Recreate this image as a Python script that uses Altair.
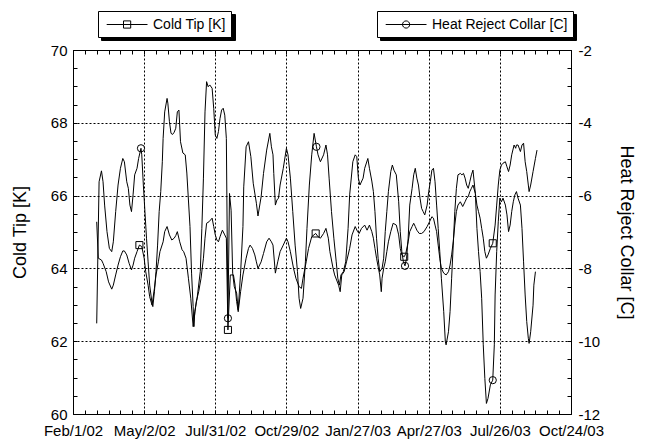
import altair as alt
import pandas as pd

# ---- data (days since Feb 1 2002) ----
cold_day = [30, 32, 36, 38, 42, 45, 49, 51, 54, 57, 60, 63, 65, 68, 71, 74, 76, 78, 81, 84,
            87, 90, 92, 95, 97, 100, 103, 105, 108, 110, 114, 116, 119, 122, 125, 128, 130, 132, 135, 138,
            140, 143, 146, 149, 152, 156, 159, 162, 165, 167, 169, 172, 176, 178, 180, 182, 184, 186, 189, 192,
            194, 196, 199, 203, 205, 207, 209, 212, 215, 219, 222, 224, 227, 230, 232, 234, 238, 241, 245, 248,
            251, 253, 256, 259, 262, 266, 270, 272, 275, 279, 282, 286, 289, 291, 295, 298, 302, 307, 310, 313,
            317, 320, 323, 325, 329, 331, 336, 338, 340, 343, 346, 350, 353, 357, 360, 362, 365, 369, 372, 375,
            378, 380, 382, 384, 386, 388, 390, 391, 393, 395, 397, 399, 402, 405, 409, 412, 414, 416, 419, 421,
            424, 426, 429, 431, 433, 435, 438, 441, 444, 448, 451, 454, 456, 458, 460, 462, 464, 466, 469, 472,
            475, 477, 479, 481, 483, 485, 487, 490, 493, 496, 498, 500, 502, 504, 506, 509, 511, 513, 515, 517,
            519, 521, 523, 525, 528, 531, 534, 536, 538, 540, 542, 544, 547, 549, 551, 553, 555, 558, 560, 561,
            563, 566, 568, 570, 572, 574, 576, 577, 579, 582, 585, 587]
cold_k = [65.28, 64.28, 64.23, 64.14, 63.91, 63.63, 63.43, 63.54, 63.82, 64.09, 64.32, 64.48, 64.48, 64.37, 64.14, 63.96, 64.09, 64.28, 64.46, 64.64,
          64.60, 64.28, 63.91, 63.54, 63.22, 62.99, 63.45, 63.82, 64.18, 64.46, 64.73, 65.01, 65.15, 64.92, 64.78, 64.83, 64.90, 65.01, 64.73, 64.51,
          64.46, 64.28, 63.73, 63.18, 62.40, 63.09, 63.36, 63.73, 64.28, 64.83, 65.24, 65.28, 65.38, 65.15, 64.92, 64.78, 64.73, 64.87, 65.05, 64.92,
          64.83, 62.31, 63.82, 63.82, 63.54, 63.09, 62.81, 63.36, 63.82, 64.28, 64.55, 64.64, 64.55, 64.37, 64.18, 64.00, 64.18, 64.41, 64.73, 64.83,
          64.73, 64.64, 63.87, 64.18, 64.46, 64.64, 64.83, 64.73, 64.46, 64.00, 63.73, 63.50, 63.45, 63.73, 64.18, 64.55, 64.87, 64.96, 64.87, 64.83,
          64.96, 65.10, 64.83, 64.46, 64.00, 63.82, 63.54, 63.36, 63.82, 63.91, 64.18, 64.55, 64.92, 65.15, 65.01, 64.96, 65.10, 65.19, 65.05, 65.19,
          65.01, 64.83, 64.55, 64.28, 64.05, 63.82, 63.36, 63.73, 64.00, 64.18, 64.46, 64.73, 65.01, 65.24, 65.19, 64.92, 64.55, 64.37, 64.32, 64.41,
          64.73, 65.01, 65.15, 65.24, 65.15, 65.05, 64.96, 64.96, 65.01, 65.15, 65.28, 65.42, 65.38, 65.19, 65.01, 64.64, 64.28, 64.00, 63.87, 63.82,
          63.91, 64.09, 64.37, 64.73, 65.19, 65.56, 65.74, 65.83, 65.70, 65.83, 65.93, 65.97, 66.11, 66.20, 66.29, 66.06, 65.74, 65.56, 65.38, 65.10,
          64.83, 64.46, 64.28, 64.37, 64.55, 64.69, 65.19, 65.74, 66.29, 66.70, 66.84, 66.89, 66.93, 66.79, 66.66, 66.84, 67.12, 67.39, 67.30, 67.39,
          67.39, 67.21, 67.39, 67.44, 66.93, 66.66, 66.29, 66.11, 66.29, 66.66, 67.02, 67.25]

heat_day = [30, 33, 36, 38, 40, 43, 46, 49, 51, 54, 57, 60, 63, 65, 68, 70, 72, 74, 76, 78,
            81, 83, 86, 87, 89, 91, 93, 95, 97, 100, 101, 103, 105, 107, 109, 111, 113, 114, 116, 119,
            120, 122, 124, 126, 128, 130, 132, 134, 136, 139, 142, 144, 148, 150, 152, 153, 154, 157, 161, 163,
            165, 167, 169, 171, 173, 176, 178, 180, 182, 184, 186, 188, 190, 192, 194, 196, 198, 200, 202, 204,
            207, 209, 212, 215, 216, 219, 222, 225, 228, 232, 234, 238, 241, 245, 249, 251, 253, 254, 256, 258,
            260, 262, 266, 270, 272, 275, 278, 281, 284, 286, 288, 291, 294, 296, 299, 302, 305, 308, 310, 313,
            317, 320, 322, 324, 327, 330, 333, 335, 337, 339, 342, 345, 348, 350, 354, 357, 359, 361, 363, 367,
            369, 373, 375, 378, 380, 382, 384, 386, 388, 391, 393, 395, 397, 399, 402, 404, 406, 409, 412, 414,
            416, 418, 420, 422, 424, 426, 429, 431, 433, 435, 437, 439, 441, 443, 445, 448, 450, 452, 454, 456,
            458, 460, 462, 464, 466, 469, 471, 472, 475, 477, 479, 481, 483, 485, 487, 490, 492, 494, 496, 498,
            500, 502, 504, 506, 509, 511, 513, 515, 517, 519, 521, 523, 525, 528, 531, 533, 534, 536, 538, 540,
            542, 544, 547, 549, 551, 553, 555, 557, 559, 561, 563, 566, 568, 570, 572, 574, 576, 577, 579, 582,
            583, 585]
heat_c = [-9.51, -5.62, -5.32, -5.62, -6.26, -6.99, -7.45, -7.54, -7.27, -6.44, -5.71, -5.25, -4.98, -5.07, -5.62, -5.80, -6.26, -6.44, -5.98, -5.43,
          -5.25, -4.98, -4.70, -4.88, -5.71, -6.44, -7.17, -7.82, -8.46, -8.96, -9.05, -8.64, -8.09, -7.36, -6.44, -5.89, -5.07, -4.43, -3.70, -3.33,
          -3.46, -3.97, -4.29, -4.32, -4.26, -4.15, -3.70, -3.65, -4.52, -4.83, -4.88, -5.38, -6.85, -8.13, -9.05, -9.60, -9.19, -8.82, -8.09, -6.90,
          -5.52, -3.70, -2.87, -3.01, -2.96, -3.05, -3.60, -4.34, -4.43, -4.24, -3.88, -3.65, -3.60, -3.79, -4.43, -9.37, -5.94, -6.40, -8.13, -8.50,
          -8.68, -9.14, -8.13, -6.85, -5.76, -4.66, -4.52, -4.93, -5.66, -6.21, -6.56, -6.03, -5.39, -4.75, -4.29, -4.66, -4.88, -5.39, -6.26, -6.12,
          -6.07, -5.71, -5.25, -4.70, -4.88, -5.52, -6.44, -7.36, -8.09, -8.82, -9.10, -8.82, -7.82, -6.90, -5.71, -4.88, -4.29, -4.66, -4.88, -5.07,
          -4.88, -4.61, -4.88, -5.52, -6.44, -7.17, -7.82, -8.27, -8.46, -8.18, -8.09, -7.82, -6.90, -5.98, -5.07, -4.88, -4.93, -5.52, -5.71, -5.52,
          -5.25, -4.98, -5.25, -5.60, -5.89, -6.44, -7.17, -7.72, -8.09, -8.00, -7.72, -6.99, -6.44, -5.89, -5.34, -5.16, -5.30, -5.43, -6.17, -6.99,
          -7.54, -7.82, -7.93, -7.72, -7.17, -6.26, -5.80, -5.43, -5.25, -5.52, -5.71, -6.07, -6.35, -6.44, -6.53, -6.26, -5.89, -5.62, -5.30, -5.25,
          -5.62, -6.26, -6.90, -7.54, -8.27, -9.19, -10.01, -10.10, -9.74, -9.19, -8.27, -7.36, -6.44, -5.80, -5.43, -5.39, -5.43, -5.39, -5.52, -5.71,
          -5.80, -5.62, -5.43, -5.30, -5.94, -6.90, -7.54, -8.09, -8.82, -10.10, -11.02, -11.71, -11.57, -11.20, -11.07, -10.10, -8.73, -7.54, -6.72, -6.07,
          -6.17, -6.07, -6.26, -6.53, -6.99, -6.81, -6.44, -6.17, -5.98, -5.89, -6.07, -6.26, -6.90, -7.82, -8.73, -9.46, -9.92, -10.06, -9.74, -9.01,
          -8.46, -8.09]

cold_mark_day = [84, 196, 307, 419, 531]
cold_mark_k = [64.64, 62.31, 64.96, 64.32, 64.69]
heat_mark_day = [86, 196, 308, 420, 531]
heat_mark_c = [-4.70, -9.37, -4.66, -7.93, -11.07]

x_labels = ["Feb/1/02", "May/2/02", "Jul/31/02", "Oct/29/02",
            "Jan/27/03", "Apr/27/03", "Jul/26/03", "Oct/24/03"]
x_ticks = list(range(0, 631, 15))
y_left_ticks = [60 + 0.5 * i for i in range(21)]
y_right_ticks = [-12 + 0.5 * i for i in range(21)]

COLD = "Cold Tip [K]"
HEAT = "Heat Reject Collar [C]"
FONT = "Liberation Sans"

cold = pd.DataFrame({"day": cold_day, "value": cold_k, "i": range(len(cold_day)), "series": COLD})
heat = pd.DataFrame({"day": heat_day, "value": heat_c, "i": range(len(heat_day)), "series": HEAT})
cold_m = pd.DataFrame({"day": cold_mark_day, "value": cold_mark_k, "shadow": COLD})
heat_m = pd.DataFrame({"day": heat_mark_day, "value": heat_mark_c, "shadow": HEAT})

label_arr = "[" + ",".join("'%s'" % s for s in x_labels) + "]"
x_scale = alt.Scale(domain=[0, 630], nice=False, zero=False)
yl_scale = alt.Scale(domain=[60, 70], nice=False, zero=False)
yr_scale = alt.Scale(domain=[-12, -2], nice=False, zero=False)

x_bottom = alt.Axis(
    values=x_ticks, tickCount=200, title=None, orient="bottom",
    labelExpr="datum.value % 90 === 0 ? " + label_arr + "[datum.value / 90] : ''",
    tickSize=4, offset=-4, domain=False, tickColor="black", tickWidth=1,
    grid=True, gridColor="black", gridDash=[2, 2], gridWidth=1,
    gridOpacity={"condition": {"test": "datum.value % 90 === 0", "value": 1}, "value": 0},
    labelFont=FONT, labelFontSize=15, labelColor="black", labelPadding=9,
    labelFlush=False, labelOverlap=False,
)
x_top = alt.Axis(
    values=x_ticks, tickCount=200, title=None, orient="top", labels=False,
    tickSize=4, offset=-4, domain=False, tickColor="black", tickWidth=1, grid=False,
)
y_left = alt.Axis(
    values=y_left_ticks, tickCount=200, orient="left",
    labelExpr="datum.value % 2 === 0 ? '' + datum.value : ''",
    tickSize=4, offset=-4, domain=False, tickColor="black", tickWidth=1,
    grid=True, gridColor="black", gridDash=[2, 2], gridWidth=1,
    gridOpacity={"condition": {"test": "datum.value % 2 === 0", "value": 1}, "value": 0},
    labelFont=FONT, labelFontSize=15, labelColor="black", labelPadding=6,
    labelFlush=False, labelOverlap=False,
    title=COLD, titleFont=FONT, titleFontSize=18, titleFontWeight="normal", titleColor="black",
    titleAngle=270, titleX=-57, titleY=182, titleBaseline="middle", titleAlign="center",
)
y_right = alt.Axis(
    values=y_right_ticks, tickCount=200, orient="right",
    labelExpr="datum.value % 2 === 0 ? '' + datum.value : ''",
    tickSize=4, offset=-4, domain=False, tickColor="black", tickWidth=1, grid=False,
    labelFont=FONT, labelFontSize=15, labelColor="black", labelPadding=7,
    labelFlush=False, labelOverlap=False,
    title=HEAT, titleFont=FONT, titleFontSize=18, titleFontWeight="normal", titleColor="black",
    titleAngle=90, titleX=58, titleY=182, titleBaseline="middle", titleAlign="center",
)

# legend glyphs: a line with the marker in its middle
cold_path = "M-0.6,0H4.5M1.5,-0.45H2.4V0.45H1.5Z"
heat_path = "M-0.6,0H4.5M2.4,0A0.45,0.45,0,1,1,1.5,0A0.45,0.45,0,1,1,2.4,0"


def legend(path, lx, ly):
    return alt.Legend(
        title=None, orient="none", legendX=lx, legendY=ly,
        symbolType=path, symbolSize=256, symbolStrokeColor="black", symbolStrokeWidth=1,
        symbolFillColor="transparent", symbolOffset=0, labelOffset=33,
        labelFont=FONT, labelFontSize=14, labelColor="black",
        strokeColor="black", fillColor="white", padding=5, cornerRadius=0, zindex=2,
    )


def shadow_legend(lx, ly, text_width):
    # a plain black box of the same size, set 3px down and right: the drop shadow
    return alt.Legend(
        title=None, orient="none", legendX=lx, legendY=ly,
        symbolType="M-0.6,0H4.5", symbolSize=256, symbolStrokeColor="black",
        symbolOffset=0, labelOffset=33 + text_width, labelExpr="''",
        labelFont=FONT, labelFontSize=14,
        strokeColor="black", fillColor="black", padding=5, cornerRadius=0, zindex=1,
    )


cold_line = alt.Chart(cold).mark_line(strokeWidth=1).encode(
    x=alt.X("day:Q", scale=x_scale, axis=x_bottom),
    y=alt.Y("value:Q", scale=yl_scale, axis=y_left),
    order="i:Q",
    color=alt.Color("series:N", scale=alt.Scale(range=["black"]), legend=legend(cold_path, 25, -39)),
)
cold_pts = alt.Chart(cold_m).mark_point(shape="square", filled=False, size=50, color="black",
                                         strokeWidth=1).encode(
    x=alt.X("day:Q", scale=x_scale),
    y=alt.Y("value:Q", scale=yl_scale),
    opacity=alt.Opacity("shadow:N", scale=alt.Scale(range=[1]), legend=shadow_legend(28, -36, 73)),
)
heat_line = alt.Chart(heat).mark_line(strokeWidth=1).encode(
    x=alt.X("day:Q", scale=x_scale, axis=x_top),
    y=alt.Y("value:Q", scale=yr_scale, axis=y_right),
    order="i:Q",
    color=alt.Color("series:N", scale=alt.Scale(range=["black"]), legend=legend(heat_path, 304, -39)),
)
heat_pts = alt.Chart(heat_m).mark_point(shape="circle", filled=False, size=52, color="black",
                                         strokeWidth=1).encode(
    x=alt.X("day:Q", scale=x_scale),
    y=alt.Y("value:Q", scale=yr_scale),
    opacity=alt.Opacity("shadow:N", scale=alt.Scale(range=[1]), legend=shadow_legend(307, -36, 135)),
)

chart = alt.layer(
    alt.layer(cold_line, cold_pts),
    alt.layer(heat_line, heat_pts),
).resolve_scale(
    y="independent", color="independent", opacity="independent"
).resolve_axis(
    x="independent", y="independent"
).properties(
    width=498, height=364,
    padding={"left": 65, "top": 42, "right": 70, "bottom": 28},
    autosize=alt.AutoSizeParams(type="none"),
    background="white",
).configure_view(
    stroke="black", strokeWidth=1
)

chart.save("out.html", embed_options={"renderer": "svg", "actions": False})
